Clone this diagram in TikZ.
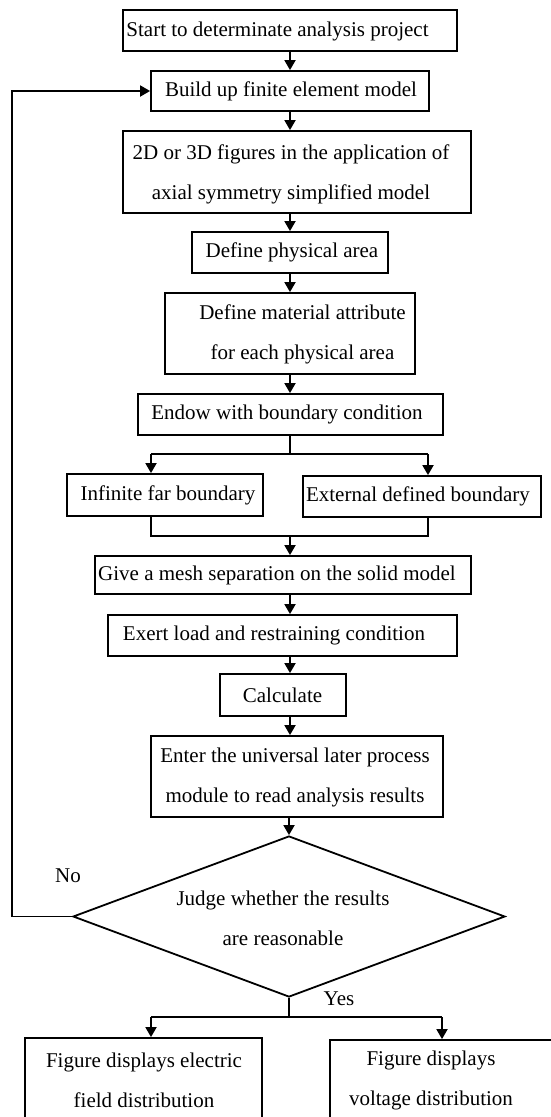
\documentclass[tikz,border=0pt]{standalone}
\usepackage{fontspec}
\setmainfont{Liberation Serif}
\usetikzlibrary{arrows.meta,shapes.geometric}
\begin{document}
\begin{tikzpicture}[x=1pt,y=-1pt,
  box/.style={draw=black,line width=1.8pt,inner sep=0pt},
  txt/.style={inner sep=0pt,align=center,font=\fontsize{21}{40}\selectfont},
  conn/.style={line width=1.8pt},
  arr/.style={line width=1.8pt,-{Triangle[length=10pt,width=11pt]}}]
\fill[white] (0,0) rectangle (551,1117);
\useasboundingbox (0,0) rectangle (551,1117);
\clip (0,0) rectangle (551,1117);

% boxes
\node[box,minimum width=334pt,minimum height=41pt] (start) at (290,30.5) {};
\node[box,minimum width=278pt,minimum height=40pt] (build) at (290,91) {};
\node[box,minimum width=348pt,minimum height=82pt] (twod) at (297,172) {};
\node[box,minimum width=196pt,minimum height=41pt] (phys) at (290,252.5) {};
\node[box,minimum width=250pt,minimum height=81pt] (mat) at (290,333.5) {};
\node[box,minimum width=305pt,minimum height=41pt] (endow) at (290.5,414.5) {};
\node[box,minimum width=196pt,minimum height=42pt] (inf) at (165,495) {};
\node[box,minimum width=238pt,minimum height=41pt] (ext) at (422,496.5) {};
\node[box,minimum width=376pt,minimum height=38pt] (mesh) at (283,575) {};
\node[box,minimum width=349pt,minimum height=41pt] (exert) at (282.5,635.5) {};
\node[box,minimum width=126pt,minimum height=42pt] (calc) at (283,695) {};
\node[box,minimum width=292pt,minimum height=81pt] (enter) at (297,776.5) {};
\node[box,diamond,minimum width=432pt,minimum height=161pt] (dia) at (289,916.5) {};
\node[box,minimum width=237pt,minimum height=92pt] (botL) at (143.5,1084) {};
\node[box,minimum width=230pt,minimum height=90pt] (botR) at (445,1085) {};

% texts
\node[txt] (startT) at (277.5,31) {Start to determinate analysis project};
\node[txt] (buildT) at (291,91) {Build up finite element model};
\node[txt] (twodT) at (291,174) {2D or 3D figures in the application of\\axial symmetry simplified model};
\node[txt] (physT) at (292,252.5) {Define physical area};
\node[txt] (matT) at (302.5,334) {Define material attribute\\for each physical area};
\node[txt] (endowT) at (287,414.5) {Endow with boundary condition};
\node[txt] (infT) at (168,495) {Infinite far boundary};
\node[txt] (extT) at (418,496.5) {External defined boundary};
\node[txt] (meshT) at (277,575) {Give a mesh separation on the solid model};
\node[txt] (exertT) at (274,635.5) {Exert load and restraining condition};
\node[txt] (calcT) at (282.5,695) {Calculate};
\node[txt] (enterT) at (295,777) {Enter the universal later process\\module to read analysis results};
\node[txt] (diaT) at (283,918) {Judge whether the results\\are reasonable};
\node[txt] (botLT) at (144,1080) {Figure displays electric\\field distribution};
\node[txt] (botRT) at (431,1080) {Figure displays\\voltage distribution};
\node[txt] (no) at (68,876) {No};
\node[txt] (yes) at (339,999) {Yes};

% coordinates
\coordinate (spine) at (290,0);
\coordinate (fbx) at (12,0);
\coordinate (sL) at (151,454);
\coordinate (sC) at (290,454);
\coordinate (sR) at (428,454);
\coordinate (mL) at (151,536);
\coordinate (mC) at (290,536);
\coordinate (mR) at (428,536);
\coordinate (yL) at (151,1017);
\coordinate (yC) at (289,1017);
\coordinate (yR) at (442,1017);

% connectors
\draw[arr] (start.south -| spine) -- (build.north -| spine);
\draw[arr] (build.south -| spine) -- (twod.north -| spine);
\draw[arr] (twod.south -| spine) -- (phys.north -| spine);
\draw[arr] (phys.south -| spine) -- (mat.north -| spine);
\draw[arr] (mat.south -| spine) -- (endow.north -| spine);
\draw[conn] (endow.south -| sC) -- (sC);
\draw[conn] (sL) -- (sR);
\draw[arr] (sL) -- (inf.north -| sL);
\draw[arr] (sR) -- (ext.north -| sR);
\draw[conn] (inf.south -| mL) -- (mL) -- (mR) -- (ext.south -| mR);
\draw[arr] (mC) -- (mesh.north -| mC);
\draw[arr] (mesh.south -| spine) -- (exert.north -| spine);
\draw[arr] (exert.south -| spine) -- (calc.north -| spine);
\draw[arr] (calc.south -| spine) -- (enter.north -| spine);
\draw[arr] (enter.south -| dia.north) -- (dia.north);
\draw[arr] (dia.west) -- (dia.west -| fbx) |- (build.west);
\draw[conn] (dia.south) -- (yC);
\draw[conn] (yL) -- (yR);
\draw[arr] (yL) -- (botL.north -| yL);
\draw[arr] (yR) -- (botR.north -| yR);
\end{tikzpicture}
\end{document}
